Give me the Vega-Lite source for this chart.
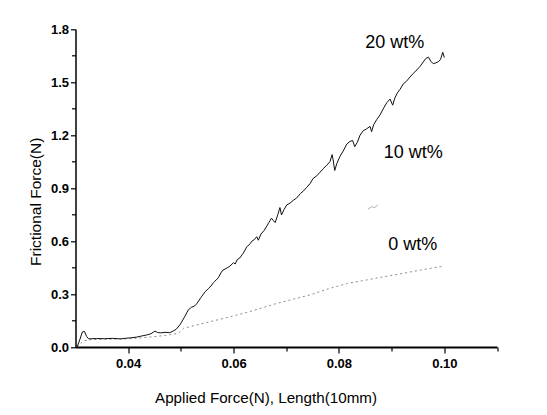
{
  "$schema": "https://vega.github.io/schema/vega-lite/v6.json",
  "width": 421.5,
  "height": 317.7,
  "autosize": "none",
  "padding": {"left": 75.5, "top": 29.3, "right": 50, "bottom": 68},
  "background": "white",
  "config": {"view": {"stroke": null}, "font": "Liberation Sans"},
  "datasets": {
    "curves": [
      {"s": "20 wt%", "x": 0.0303, "y": 0.0},
      {"s": "20 wt%", "x": 0.0308, "y": 0.04},
      {"s": "20 wt%", "x": 0.0313, "y": 0.085},
      {"s": "20 wt%", "x": 0.0317, "y": 0.088},
      {"s": "20 wt%", "x": 0.0321, "y": 0.06},
      {"s": "20 wt%", "x": 0.0325, "y": 0.046},
      {"s": "20 wt%", "x": 0.0340, "y": 0.048},
      {"s": "20 wt%", "x": 0.0355, "y": 0.047},
      {"s": "20 wt%", "x": 0.0370, "y": 0.049},
      {"s": "20 wt%", "x": 0.0385, "y": 0.046},
      {"s": "20 wt%", "x": 0.0397, "y": 0.05},
      {"s": "20 wt%", "x": 0.0405, "y": 0.052},
      {"s": "20 wt%", "x": 0.0416, "y": 0.056},
      {"s": "20 wt%", "x": 0.0425, "y": 0.062},
      {"s": "20 wt%", "x": 0.0435, "y": 0.068},
      {"s": "20 wt%", "x": 0.0443, "y": 0.075},
      {"s": "20 wt%", "x": 0.0451, "y": 0.09},
      {"s": "20 wt%", "x": 0.0456, "y": 0.082},
      {"s": "20 wt%", "x": 0.0462, "y": 0.08},
      {"s": "20 wt%", "x": 0.0470, "y": 0.083},
      {"s": "20 wt%", "x": 0.0479, "y": 0.081},
      {"s": "20 wt%", "x": 0.0485, "y": 0.09},
      {"s": "20 wt%", "x": 0.0491, "y": 0.1},
      {"s": "20 wt%", "x": 0.0498, "y": 0.125},
      {"s": "20 wt%", "x": 0.0506, "y": 0.165},
      {"s": "20 wt%", "x": 0.0514, "y": 0.21},
      {"s": "20 wt%", "x": 0.0520, "y": 0.225},
      {"s": "20 wt%", "x": 0.0526, "y": 0.232},
      {"s": "20 wt%", "x": 0.0530, "y": 0.245},
      {"s": "20 wt%", "x": 0.0538, "y": 0.28},
      {"s": "20 wt%", "x": 0.0546, "y": 0.313},
      {"s": "20 wt%", "x": 0.0552, "y": 0.33},
      {"s": "20 wt%", "x": 0.0557, "y": 0.345},
      {"s": "20 wt%", "x": 0.0562, "y": 0.365},
      {"s": "20 wt%", "x": 0.0567, "y": 0.38},
      {"s": "20 wt%", "x": 0.0571, "y": 0.392},
      {"s": "20 wt%", "x": 0.0576, "y": 0.42},
      {"s": "20 wt%", "x": 0.0580, "y": 0.436},
      {"s": "20 wt%", "x": 0.0586, "y": 0.445},
      {"s": "20 wt%", "x": 0.0593, "y": 0.458},
      {"s": "20 wt%", "x": 0.0600, "y": 0.478},
      {"s": "20 wt%", "x": 0.0603, "y": 0.47},
      {"s": "20 wt%", "x": 0.0607, "y": 0.495},
      {"s": "20 wt%", "x": 0.0612, "y": 0.505},
      {"s": "20 wt%", "x": 0.0618, "y": 0.53},
      {"s": "20 wt%", "x": 0.0622, "y": 0.55},
      {"s": "20 wt%", "x": 0.0625, "y": 0.568},
      {"s": "20 wt%", "x": 0.0630, "y": 0.58},
      {"s": "20 wt%", "x": 0.0635, "y": 0.6},
      {"s": "20 wt%", "x": 0.0640, "y": 0.61},
      {"s": "20 wt%", "x": 0.0644, "y": 0.625},
      {"s": "20 wt%", "x": 0.0647, "y": 0.605},
      {"s": "20 wt%", "x": 0.0652, "y": 0.64},
      {"s": "20 wt%", "x": 0.0658, "y": 0.66},
      {"s": "20 wt%", "x": 0.0663, "y": 0.685},
      {"s": "20 wt%", "x": 0.0667, "y": 0.705},
      {"s": "20 wt%", "x": 0.0672, "y": 0.73},
      {"s": "20 wt%", "x": 0.0676, "y": 0.715},
      {"s": "20 wt%", "x": 0.0679, "y": 0.705},
      {"s": "20 wt%", "x": 0.0684, "y": 0.75},
      {"s": "20 wt%", "x": 0.0688, "y": 0.79},
      {"s": "20 wt%", "x": 0.0691, "y": 0.748},
      {"s": "20 wt%", "x": 0.0696, "y": 0.78},
      {"s": "20 wt%", "x": 0.0701, "y": 0.805},
      {"s": "20 wt%", "x": 0.0707, "y": 0.815},
      {"s": "20 wt%", "x": 0.0713, "y": 0.83},
      {"s": "20 wt%", "x": 0.0720, "y": 0.845},
      {"s": "20 wt%", "x": 0.0727, "y": 0.87},
      {"s": "20 wt%", "x": 0.0733, "y": 0.885},
      {"s": "20 wt%", "x": 0.0739, "y": 0.905},
      {"s": "20 wt%", "x": 0.0745, "y": 0.925},
      {"s": "20 wt%", "x": 0.0751, "y": 0.955},
      {"s": "20 wt%", "x": 0.0758, "y": 0.97},
      {"s": "20 wt%", "x": 0.0764, "y": 0.99},
      {"s": "20 wt%", "x": 0.0770, "y": 1.01},
      {"s": "20 wt%", "x": 0.0777, "y": 1.03},
      {"s": "20 wt%", "x": 0.0783, "y": 1.05},
      {"s": "20 wt%", "x": 0.0787, "y": 1.09},
      {"s": "20 wt%", "x": 0.0789, "y": 1.06},
      {"s": "20 wt%", "x": 0.0792, "y": 1.0},
      {"s": "20 wt%", "x": 0.0796, "y": 1.04},
      {"s": "20 wt%", "x": 0.0802, "y": 1.08},
      {"s": "20 wt%", "x": 0.0808, "y": 1.11},
      {"s": "20 wt%", "x": 0.0815, "y": 1.15},
      {"s": "20 wt%", "x": 0.0821, "y": 1.165},
      {"s": "20 wt%", "x": 0.0826, "y": 1.17},
      {"s": "20 wt%", "x": 0.0830, "y": 1.135},
      {"s": "20 wt%", "x": 0.0835, "y": 1.16},
      {"s": "20 wt%", "x": 0.0840, "y": 1.2},
      {"s": "20 wt%", "x": 0.0846, "y": 1.225},
      {"s": "20 wt%", "x": 0.0852, "y": 1.235},
      {"s": "20 wt%", "x": 0.0859, "y": 1.25},
      {"s": "20 wt%", "x": 0.0862, "y": 1.22},
      {"s": "20 wt%", "x": 0.0866, "y": 1.26},
      {"s": "20 wt%", "x": 0.0872, "y": 1.29},
      {"s": "20 wt%", "x": 0.0878, "y": 1.315},
      {"s": "20 wt%", "x": 0.0885, "y": 1.355},
      {"s": "20 wt%", "x": 0.0891, "y": 1.385},
      {"s": "20 wt%", "x": 0.0897, "y": 1.405},
      {"s": "20 wt%", "x": 0.0902, "y": 1.37},
      {"s": "20 wt%", "x": 0.0906, "y": 1.41},
      {"s": "20 wt%", "x": 0.0911, "y": 1.44},
      {"s": "20 wt%", "x": 0.0916, "y": 1.46},
      {"s": "20 wt%", "x": 0.0922, "y": 1.49},
      {"s": "20 wt%", "x": 0.0928, "y": 1.505},
      {"s": "20 wt%", "x": 0.0935, "y": 1.53},
      {"s": "20 wt%", "x": 0.0941, "y": 1.55},
      {"s": "20 wt%", "x": 0.0948, "y": 1.57},
      {"s": "20 wt%", "x": 0.0954, "y": 1.59},
      {"s": "20 wt%", "x": 0.0960, "y": 1.615},
      {"s": "20 wt%", "x": 0.0965, "y": 1.635},
      {"s": "20 wt%", "x": 0.0970, "y": 1.642},
      {"s": "20 wt%", "x": 0.0974, "y": 1.62},
      {"s": "20 wt%", "x": 0.0979, "y": 1.605},
      {"s": "20 wt%", "x": 0.0984, "y": 1.61},
      {"s": "20 wt%", "x": 0.0989, "y": 1.617},
      {"s": "20 wt%", "x": 0.0993, "y": 1.63},
      {"s": "20 wt%", "x": 0.0997, "y": 1.67},
      {"s": "20 wt%", "x": 0.1000, "y": 1.64},
      {"s": "0 wt%", "x": 0.0303, "y": 0.0},
      {"s": "0 wt%", "x": 0.0315, "y": 0.035},
      {"s": "0 wt%", "x": 0.0330, "y": 0.042},
      {"s": "0 wt%", "x": 0.0360, "y": 0.044},
      {"s": "0 wt%", "x": 0.0397, "y": 0.046},
      {"s": "0 wt%", "x": 0.0430, "y": 0.053},
      {"s": "0 wt%", "x": 0.0460, "y": 0.062},
      {"s": "0 wt%", "x": 0.0480, "y": 0.07},
      {"s": "0 wt%", "x": 0.0495, "y": 0.077},
      {"s": "0 wt%", "x": 0.0505, "y": 0.106},
      {"s": "0 wt%", "x": 0.0530, "y": 0.125},
      {"s": "0 wt%", "x": 0.0555, "y": 0.143},
      {"s": "0 wt%", "x": 0.0585, "y": 0.165},
      {"s": "0 wt%", "x": 0.0618, "y": 0.19},
      {"s": "0 wt%", "x": 0.0650, "y": 0.218},
      {"s": "0 wt%", "x": 0.0682, "y": 0.247},
      {"s": "0 wt%", "x": 0.0715, "y": 0.272},
      {"s": "0 wt%", "x": 0.0745, "y": 0.295},
      {"s": "0 wt%", "x": 0.0780, "y": 0.33},
      {"s": "0 wt%", "x": 0.0816, "y": 0.36},
      {"s": "0 wt%", "x": 0.0853, "y": 0.38},
      {"s": "0 wt%", "x": 0.0885, "y": 0.398},
      {"s": "0 wt%", "x": 0.0916, "y": 0.414},
      {"s": "0 wt%", "x": 0.0955, "y": 0.436},
      {"s": "0 wt%", "x": 0.0992, "y": 0.455},
      {"s": "0 wt%", "x": 0.1000, "y": 0.457},
      {"s": "10 wt%", "x": 0.0855, "y": 0.78},
      {"s": "10 wt%", "x": 0.0862, "y": 0.795},
      {"s": "10 wt%", "x": 0.0868, "y": 0.79},
      {"s": "10 wt%", "x": 0.0874, "y": 0.805}
    ],
    "labels": [
      {"label": "20 wt%", "x": 0.0906, "y": 1.724},
      {"label": "10 wt%", "x": 0.0941, "y": 1.097},
      {"label": "0 wt%", "x": 0.094, "y": 0.578}
    ]
  },
  "encoding": {
    "x": {
      "field": "x", "type": "quantitative",
      "scale": {"domain": [0.03, 0.11], "nice": false, "zero": false},
      "axis": {
        "title": "Applied Force(N), Length(10mm)",
        "values": [0.04, 0.05, 0.06, 0.07, 0.08, 0.09, 0.10, 0.11],
        "labelExpr": "round(datum.value*100) % 2 == 0 && datum.value < 0.105 ? format(datum.value, '.2f') : ''",
        "tickSize": {"condition": {"test": "round(datum.value*100) % 2 == 0", "value": 6}, "value": 4},
        "grid": false,
        "domainColor": "black", "domainWidth": 2,
        "tickColor": "black", "tickWidth": 1.2,
        "labelColor": "black", "labelFont": "Liberation Sans", "labelFontWeight": "bold", "labelFontSize": 13,
        "labelPadding": 4, "labelFlush": false,
        "titleFont": "Liberation Sans", "titleFontWeight": "normal", "titleFontSize": 15.2, "titleColor": "black",
        "titleX": 190, "titleY": 55, "titleBaseline": "alphabetic", "titleAnchor": "middle"
      }
    },
    "y": {
      "field": "y", "type": "quantitative",
      "scale": {"domain": [0, 1.8], "nice": false},
      "axis": {
        "title": "Frictional Force(N)",
        "values": [0, 0.15, 0.3, 0.45, 0.6, 0.75, 0.9, 1.05, 1.2, 1.35, 1.5, 1.65, 1.8],
        "labelExpr": "round(datum.value/0.15) % 2 == 0 ? format(datum.value, '.1f') : ''",
        "tickSize": {"condition": {"test": "round(datum.value/0.15) % 2 == 0", "value": 5}, "value": 4},
        "grid": false,
        "domainColor": "black", "domainWidth": 1.5,
        "tickColor": "black", "tickWidth": 1.2,
        "labelColor": "black", "labelFont": "Liberation Sans", "labelFontWeight": "bold", "labelFontSize": 13,
        "labelPadding": 2, "labelFlush": false,
        "titleFont": "Liberation Sans", "titleFontWeight": "normal", "titleFontSize": 15.5, "titleColor": "black",
        "titleX": -35, "titleY": 172, "titleBaseline": "alphabetic", "titleAnchor": "middle", "titleAngle": -90
      }
    }
  },
  "layer": [
    {
      "data": {"name": "curves"},
      "transform": [{"filter": "datum.s == '0 wt%'"}],
      "mark": {"type": "line", "color": "#8a8a8a", "strokeWidth": 1, "strokeDash": [2, 3]}
    },
    {
      "data": {"name": "curves"},
      "transform": [{"filter": "datum.s == '10 wt%'"}],
      "mark": {"type": "line", "color": "#b0b0b0", "strokeWidth": 1}
    },
    {
      "data": {"name": "curves"},
      "transform": [{"filter": "datum.s == '20 wt%'"}],
      "mark": {"type": "line", "color": "#111111", "strokeWidth": 1}
    },
    {
      "data": {"name": "labels"},
      "mark": {"type": "text", "font": "Liberation Sans", "fontSize": 18, "color": "black", "align": "center", "baseline": "middle"},
      "encoding": {"text": {"field": "label"}}
    }
  ]
}
